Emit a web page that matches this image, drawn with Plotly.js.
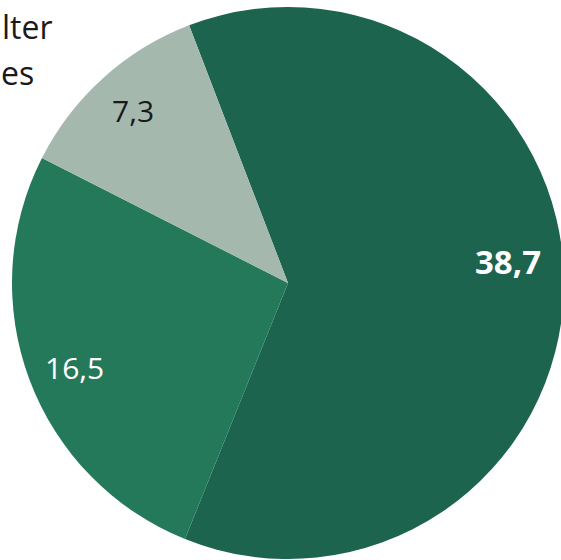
<!DOCTYPE html>
<html>
<head>
<meta charset="utf-8">
<script src="https://cdn.plot.ly/plotly-3.0.1.min.js"></script>
<style>
html,body{margin:0;padding:0;overflow:hidden;background:#fff;}
#chart{width:564px;height:560px;}
</style>
</head>
<body>
<div id="chart"></div>
<script>
const labels = ["A", "B", "C"];
const values = [38.7, 16.5, 7.3];
const valueLabels = ["38,7", "16,5", "7,3"];
const titleLines = ["lter", "es"];

// styles (not data)
const colors = ["#1D644E", "#25795B", "#A5B8AE"];
const textColors = ["#FFFFFF", "#FFFFFF", "#1A1A1A"];
const textSizes = [33, 30, 30];
const textBold = [true, false, false];
const labelRadius = [0.80, 0.83, 0.84];
const labelAngleShift = [-6, -1, 0];
const rotation = -21;

const trace = {
  type: "pie",
  labels: labels,
  values: values,
  sort: false,
  direction: "clockwise",
  rotation: rotation,
  marker: {colors: colors, line: {width: 0}},
  textinfo: "none",
  hoverinfo: "none",
  showlegend: false
};

const total = values.reduce((a, b) => a + b, 0);
const annotations = [];
let cum = 0;
values.forEach((v, i) => {
  const mid = rotation + (cum + v / 2) / total * 360 + labelAngleShift[i];
  cum += v;
  const th = mid * Math.PI / 180;
  const r = labelRadius[i] * 0.5;
  annotations.push({
    text: textBold[i] ? "<b>" + valueLabels[i] + "</b>" : valueLabels[i],
    xref: "paper", yref: "paper",
    x: 0.5 + r * Math.sin(th), y: 0.5 + r * Math.cos(th),
    xanchor: "center", yanchor: "middle", showarrow: false,
    font: {family: "Open Sans, sans-serif", size: textSizes[i], color: textColors[i]}
  });
});

annotations.push(
  {text: titleLines[0], xref: "paper", yref: "paper", x: -0.022, y: 0.965, xanchor: "left", yanchor: "middle",
   showarrow: false, font: {family: "Open Sans, sans-serif", size: 32, color: "#1A1A1A"}},
  {text: titleLines[1], xref: "paper", yref: "paper", x: -0.024, y: 0.882, xanchor: "left", yanchor: "middle",
   showarrow: false, font: {family: "Open Sans, sans-serif", size: 32, color: "#1A1A1A"}}
);

const layout = {
  width: 564,
  height: 560,
  margin: {l: 12, r: 0, t: 7, b: 1, pad: 0},
  separators: ",.",
  paper_bgcolor: "#FFFFFF",
  plot_bgcolor: "#FFFFFF",
  showlegend: false,
  annotations: annotations
};

Plotly.newPlot("chart", [trace], layout, {displayModeBar: false, staticPlot: true});
</script>
</body>
</html>
